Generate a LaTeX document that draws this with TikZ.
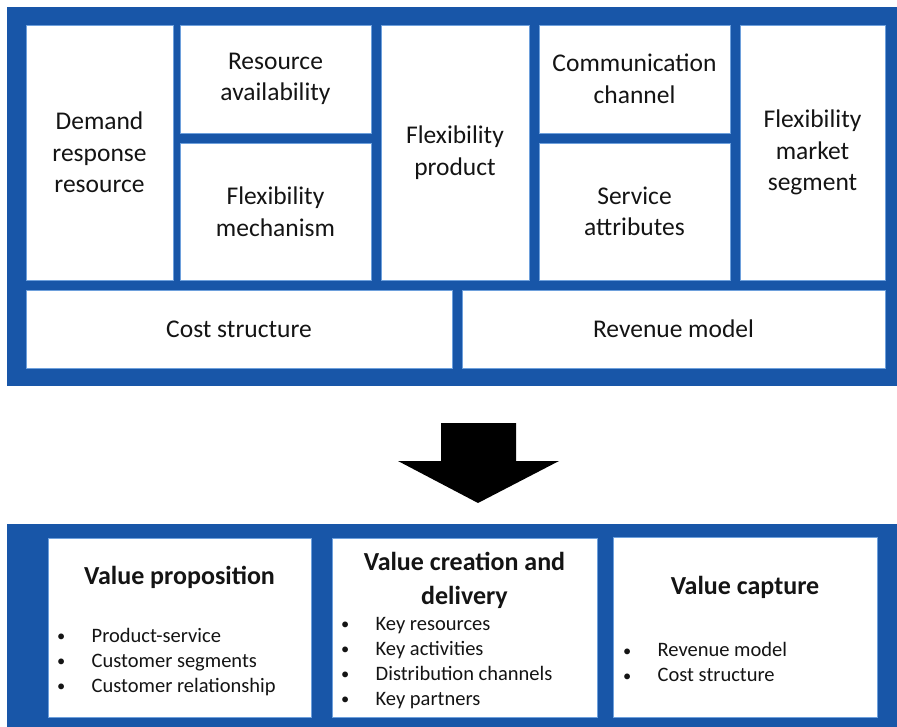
\documentclass[tikz,border=0pt]{standalone}
\usepackage{fontspec}
\setmainfont{Carlito}
\definecolor{frameblue}{RGB}{24,86,168}
\definecolor{edgeblue}{RGB}{110,160,220}
\definecolor{txt}{RGB}{20,20,20}
\newcommand{\bul}{\makebox[34.5pt][l]{\raisebox{0.5pt}{\scalebox{0.8}{•}}}}
\begin{document}
\begin{tikzpicture}[x=1pt,y=-1pt,
  frame/.style={fill=frameblue,draw=none},
  cell/.style={fill=white,draw=edgeblue,line width=0.8pt,inner sep=0pt,text=txt,align=center,
    font=\fontsize{25.5}{31.5}\selectfont},
  bcell/.style={fill=white,draw=edgeblue,line width=0.8pt,inner sep=0pt},
  head/.style={inner sep=0pt,text=txt,align=center,font=\bfseries\fontsize{26}{34}\selectfont},
  blist/.style={inner sep=0pt,text=txt,align=left,anchor=west,font=\fontsize{20.5}{25}\selectfont},
  bigarrow/.style={fill=black,draw=none}]
\useasboundingbox (0,0) rectangle (897,727);
% top frame
\path[frame] (7,7) rectangle (897,386);
\node[cell,minimum width=147,minimum height=255] (drr) at (99.5,152.5) {Demand\\response\\resource};
\node[cell,minimum width=191,minimum height=108] (ra) at (275.5,79) {Resource\\availability};
\node[cell,minimum width=191,minimum height=137] (fm) at (275.5,211.5) {Flexibility\\mechanism};
\node[cell,minimum width=148,minimum height=255] (fp) at (455,152.5) {Flexibility\\product};
\node[cell,minimum width=191,minimum height=108] (cc) at (634.5,79) {Communication\\channel};
\node[cell,minimum width=191,minimum height=137] (sa) at (634.5,211.5) {Service\\attributes};
\node[cell,minimum width=145,minimum height=255] (fms) at (812.5,152.5) {Flexibility\\market\\segment};
\node[cell,minimum width=426,minimum height=78] (cs) at (239,329) {Cost structure};
\node[cell,minimum width=423,minimum height=78] (rm) at (673.5,329) {Revenue model};
% arrow
\path[bigarrow] (441,423) -- (516,423) -- (516,461) -- (559,461) -- (478,503) -- (398,461) -- (441,461) -- cycle;
% bottom frame
\path[frame] (7,524) rectangle (897,727);
\node[bcell,minimum width=263,minimum height=179] (vp) at (179.5,627.5) {};
\node[bcell,minimum width=265,minimum height=179] (vcd) at (464.5,627.5) {};
\node[bcell,minimum width=264,minimum height=180] (vc) at (745,627) {};
\node[head] (vph) at (179.5,577) {Value proposition};
\node[head] (vcdh) at (464.5,580) {Value creation and\\delivery};
\node[head] (vch) at (745,587) {Value capture};
\node[blist] (vpl) at (57,662) {\bul Product-service\\\bul Customer segments\\\bul Customer relationship};
\node[blist] (vcdl) at (341,663) {\bul Key resources\\\bul Key activities\\\bul Distribution channels\\\bul Key partners};
\node[blist] (vcl) at (623,662) {\bul Revenue model\\\bul Cost structure};
\end{tikzpicture}
\end{document}
